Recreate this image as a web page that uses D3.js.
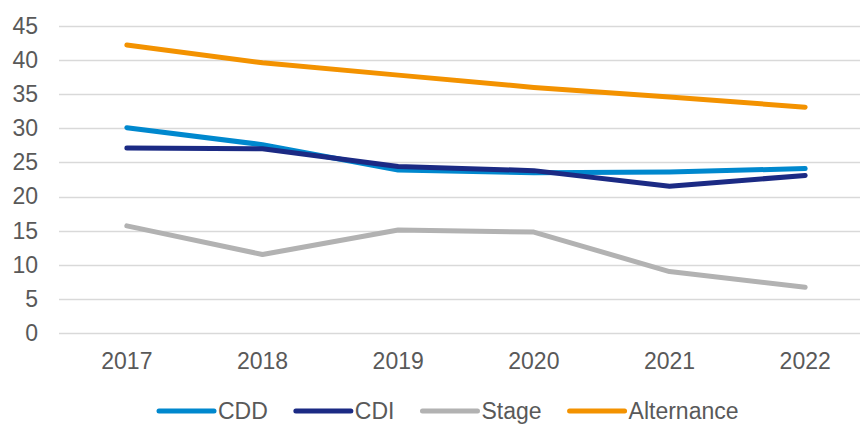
<!DOCTYPE html>
<html>
<head>
<meta charset="utf-8">
<script src="https://cdn.jsdelivr.net/npm/d3@7"></script>
<style>
  body { margin: 0; background: #fff; }
  text { font-family: "Liberation Sans", Arial, sans-serif; fill: #595959; }
</style>
</head>
<body>
<div id="chart"></div>
<script>
// Data
const years = ["2017", "2018", "2019", "2020", "2021", "2022"];
const cdd = [30.1, 27.6, 23.9, 23.5, 23.6, 24.1];
const cdi = [27.1, 27.0, 24.4, 23.8, 21.5, 23.1];
const stage = [15.7, 11.5, 15.1, 14.8, 9.0, 6.7];
const alternance = [42.2, 39.6, 37.8, 36.0, 34.6, 33.1];
const yTicks = [0, 5, 10, 15, 20, 25, 30, 35, 40, 45];

const seriesNames = ["CDD", "CDI", "Stage", "Alternance"];
const seriesColors = ["#0088CE", "#1B2A84", "#B2B2B2", "#F39200"];
const series = [cdd, cdi, stage, alternance].map((values, i) => ({
  name: seriesNames[i],
  color: seriesColors[i],
  values: values
}));

const width = 860;
const height = 424;
const fontSize = "23px";

const svg = d3.select("#chart")
  .append("svg")
  .attr("width", width)
  .attr("height", height);

const x = d3.scaleBand()
  .domain(years)
  .range([59, 873]);

const y = d3.scaleLinear()
  .domain([0, 45])
  .range([333, 26]);

// gridlines
svg.append("g")
  .selectAll("line")
  .data(yTicks)
  .join("line")
  .attr("x1", x.range()[0])
  .attr("x2", x.range()[1])
  .attr("y1", d => Math.round(y(d)) + 0.5)
  .attr("y2", d => Math.round(y(d)) + 0.5)
  .attr("stroke", "#d9d9d9")
  .attr("stroke-width", 1.3);

// y axis labels
const yAxis = svg.append("g")
  .attr("transform", "translate(59,0)")
  .call(d3.axisLeft(y).tickValues(yTicks).tickSize(0).tickPadding(21));
yAxis.select(".domain").remove();
yAxis.selectAll("text")
  .style("font-size", fontSize)
  .attr("fill", "#595959");

// x axis labels
const xAxis = svg.append("g")
  .attr("transform", "translate(0,333)")
  .call(d3.axisBottom(x).tickSize(0).tickPadding(20));
xAxis.select(".domain").remove();
xAxis.selectAll("text")
  .style("font-size", fontSize)
  .attr("fill", "#595959");

// lines
const line = d3.line()
  .x((d, i) => x(years[i]) + x.bandwidth() / 2)
  .y(d => y(d));

svg.append("g")
  .selectAll("path")
  .data(series)
  .join("path")
  .attr("d", d => line(d.values))
  .attr("fill", "none")
  .attr("stroke", d => d.color)
  .attr("stroke-width", 5)
  .attr("stroke-linecap", "round")
  .attr("stroke-linejoin", "round");

// legend
const legend = svg.append("g")
  .attr("transform", "translate(159,411)");

let offset = 0;
series.forEach(s => {
  const item = legend.append("g").attr("transform", `translate(${offset},0)`);
  item.append("line")
    .attr("x1", 0)
    .attr("x2", 55)
    .attr("stroke", s.color)
    .attr("stroke-width", 5)
    .attr("stroke-linecap", "round");
  const label = item.append("text")
    .attr("x", 59)
    .attr("y", 7.5)
    .style("font-size", fontSize)
    .text(s.name);
  offset += 59 + label.node().getComputedTextLength() + 28;
});
</script>
</body>
</html>
